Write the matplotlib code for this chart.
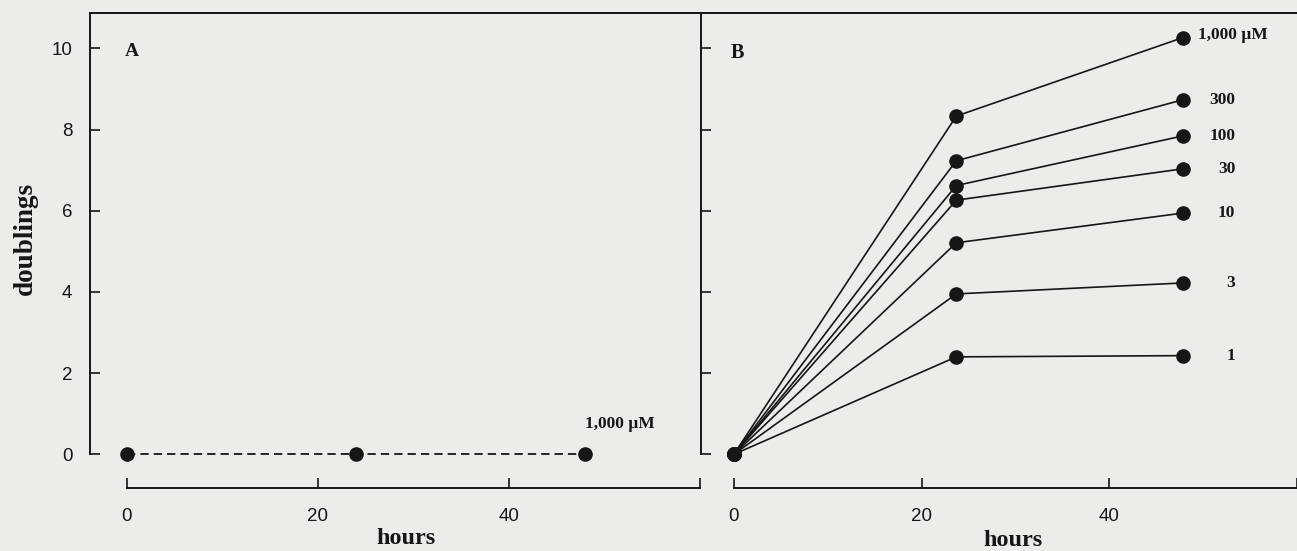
import matplotlib
matplotlib.use("Agg")
import matplotlib.pyplot as plt

# ---- data ----
hours_a = [0, 24, 48]
doublings_a = [0, 0, 0]
label_a = "1,000 \u00b5M"

hours_b = [0, 23.7, 47.8]
conc_labels = ["1,000 \u00b5M", "300", "100", "30", "10", "3", "1"]
doublings_b = [
    [0, 8.33, 10.26],
    [0, 7.23, 8.73],
    [0, 6.62, 7.84],
    [0, 6.26, 7.03],
    [0, 5.21, 5.94],
    [0, 3.95, 4.22],
    [0, 2.40, 2.43],
]
x_ticks = [0, 20, 40, 60]
x_ticklabels = ["0", "20", "40", ""]
y_ticks = [0, 2, 4, 6, 8, 10]

W, H = 1297, 551
BG = "#ecece8"
INK = "#161616"

fig = plt.figure(figsize=(W / 100, H / 100), dpi=100, facecolor=BG)

def fx(px):
    return px / W

def fy(py):
    return 1 - py / H

top_px, bot_px = 13.3, 488.3
y0_px, ppu = 454.3, 40.6
ylim = ((y0_px - bot_px) / ppu, (y0_px - top_px) / ppu)

a_left, a_right = 90.5, 700.7
b_left, b_right = 700.7, 1297.0

axA = fig.add_axes([fx(a_left), fy(bot_px), fx(a_right - a_left), (bot_px - top_px) / H])
axB = fig.add_axes([fx(b_left), fy(bot_px), fx(b_right - b_left), (bot_px - top_px) / H])

a_x0, a_ppu = 126.7, 9.555
b_x0, b_ppu = 734.3, 9.5
axA.set_xlim((a_left - a_x0) / a_ppu, (a_right - a_x0) / a_ppu)
axB.set_xlim((b_left - b_x0) / b_ppu, (b_right - b_x0) / b_ppu)

sans = ["Liberation Sans", "DejaVu Sans"]
serif = ["Liberation Serif", "DejaVu Serif"]

for ax in (axA, axB):
    ax.set_facecolor("none")
    ax.set_ylim(*ylim)
    ax.spines["right"].set_visible(False)
    for s in ("left", "bottom", "top"):
        ax.spines[s].set_linewidth(1.4)
        ax.spines[s].set_color(INK)
    ax.spines["left"].set_bounds(0, ylim[1])
    ax.set_yticks(y_ticks)
    ax.set_xticks(x_ticks)
    ax.set_xticklabels(x_ticklabels)
    ax.tick_params(direction="in", length=7, width=1.2, color=INK,
                   labelsize=13.5, labelcolor=INK)
    ax.tick_params(axis="x", pad=14)
    ax.tick_params(axis="y", pad=13)
    for lab in ax.get_xticklabels() + ax.get_yticklabels():
        lab.set_family(sans)

axA.spines["bottom"].set_bounds(0, 60)
axB.spines["bottom"].set_bounds(0, axB.get_xlim()[1])
axB.set_yticklabels([])

lab_kw = dict(fontsize=12.5, fontweight="bold", family=serif, color=INK,
              textcoords="offset points", va="center")

# ---- panel A ----
axA.plot(hours_a, doublings_a, color=INK, lw=1.3, linestyle=(0, (4.6, 2.8)),
         marker="o", markersize=9.5, clip_on=False, zorder=3)
axA.annotate(label_a, xy=(hours_a[-1], doublings_a[-1]), xytext=(0, 22),
             ha="left", **lab_kw)

# ---- panel B ----
for vals, lab in zip(doublings_b, conc_labels):
    axB.plot(hours_b, vals, color=INK, lw=1.2, marker="o", markersize=9.5,
             clip_on=False, zorder=3)
    if lab.startswith("1,000"):
        axB.annotate(lab, xy=(hours_b[-1], vals[-1]), xytext=(11, 2),
                     ha="left", **lab_kw)
    else:
        axB.annotate(lab, xy=(hours_b[-1], vals[-1]), xytext=(38, 0),
                     ha="right", **lab_kw)

# panel letters
axA.text((131.7 - a_left) / (a_right - a_left), (bot_px - 51.7) / (bot_px - top_px), "A",
         transform=axA.transAxes, ha="center", va="center", fontsize=14,
         fontweight="bold", family=serif, color=INK)
axB.text((737 - b_left) / (b_right - b_left), (bot_px - 53) / (bot_px - top_px), "B",
         transform=axB.transAxes, ha="center", va="center", fontsize=14.5,
         fontweight="bold", family=serif, color=INK)

# axis labels
axA.set_xlabel("hours", fontsize=17.5, fontweight="bold", family=serif, color=INK)
axA.xaxis.set_label_coords((406 - a_left) / (a_right - a_left), (bot_px - 538) / (bot_px - top_px))
axA.xaxis.label.set_va("center")
axB.set_xlabel("hours", fontsize=17.5, fontweight="bold", family=serif, color=INK)
axB.xaxis.set_label_coords((1013 - b_left) / (b_right - b_left), (bot_px - 540) / (bot_px - top_px))
axB.xaxis.label.set_va("center")
axA.set_ylabel("doublings", fontsize=19.5, fontweight="bold", family=serif, color=INK)
axA.yaxis.set_label_coords((25 - a_left) / (a_right - a_left), (bot_px - 238) / (bot_px - top_px))
axA.yaxis.label.set_va("center")

fig.savefig("out.png", dpi=100, facecolor=BG)
